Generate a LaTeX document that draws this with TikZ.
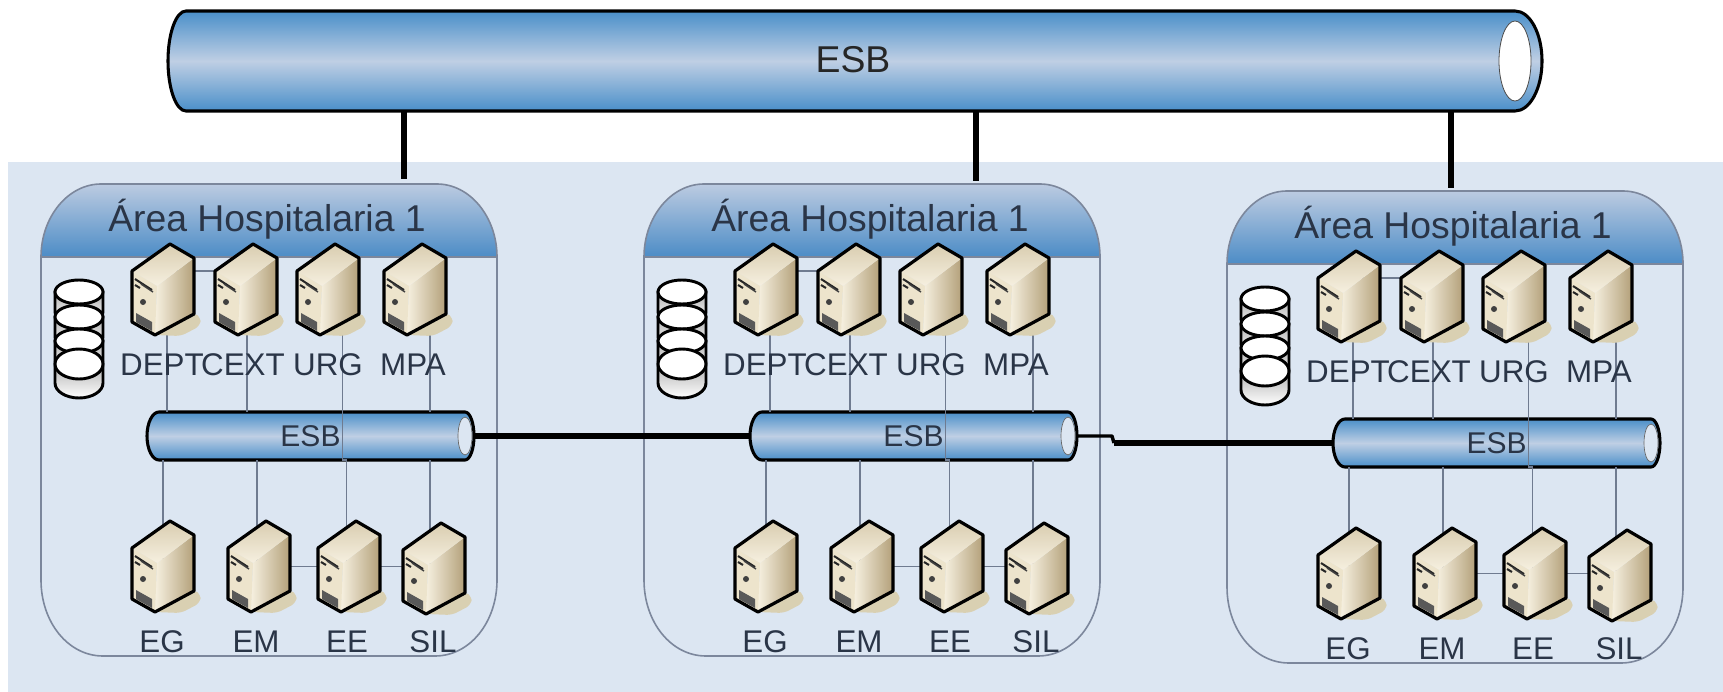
\documentclass[tikz,border=0pt]{standalone}
\usepackage{fontspec}
\setmainfont{Liberation Sans}
\usetikzlibrary{calc}
\definecolor{bgc}{HTML}{DCE6F2}
\definecolor{txtc}{HTML}{2A3547}
\definecolor{edgec}{HTML}{7C879C}
\definecolor{linkc}{HTML}{6F7B90}
\definecolor{tubeb}{HTML}{4A8FC9}
\definecolor{tubem}{HTML}{BFCFE4}
\definecolor{hdrtop}{HTML}{BCCBE1}
\definecolor{hdrbot}{HTML}{4C8CC6}
\definecolor{srvlight}{HTML}{F6F0E0}
\definecolor{srvdark}{HTML}{B3A079}
\definecolor{srvtop}{HTML}{D9CDB0}
\definecolor{srvfront}{HTML}{EDE4CC}
\definecolor{srvshadow}{HTML}{D9D0B2}
\tikzset{
  x=0.75pt,y=0.75pt,
  lbl/.style={inner sep=0pt,text=txtc,font=\fontsize{23.5}{25}\selectfont},
  hdr/.style={inner sep=0pt,text=txtc,font=\fontsize{28}{30}\selectfont},
  esblabel/.style={inner sep=0pt,text=txtc,font=\fontsize{22.5}{24}\selectfont},
  topesblabel/.style={inner sep=0pt,text=black!85,font=\fontsize{28}{30}\selectfont},
  link/.style={draw=linkc,line width=1.2pt},
  bus/.style={draw=black,line width=3.8pt},
  busthin/.style={draw=black,line width=2.6pt},
  riser/.style={draw=black,line width=4.4pt},
  srvbox/.style={inner sep=0pt,minimum width=48.75pt,minimum height=68.25pt},
  srv/.pic={
    \fill[srvshadow,rounded corners=4pt] (24,-91)--(62,-69)--(70,-73)--(69,-82)--(50,-92)--cycle;
    \shade[left color=srvlight,right color=srvdark] (26,-42)--(63,-14)--(63,-70)--(24,-91)--cycle;
    \shade[bottom color=srvlight,top color=srvtop] (1,-27)--(39,0)--(63,-14)--(26,-42)--cycle;
    \fill[srvfront] (1,-27)--(26,-42)--(24,-91)--(1,-78)--cycle;
    \draw[black!85,line width=1.5pt] (4,-35)--(21,-46) (4,-41)--(9,-44);
    \draw[black!75,line width=1.1pt] (10,-40)--(22,-48);
    \fill[black!75] (12,-58) circle (3);
    \fill[black!65] (5,-69)--(21,-78)--(21,-87)--(5,-78)--cycle;
    \draw[black,line width=2.4pt,line join=round] (1,-27)--(39,0)--(63,-14)--(63,-70)--(24,-91)--(1,-78)--cycle;
  }
}
\newcommand{\srvat}[3]{%
  \node[srvbox] (#1) at (#2+32,-#3-45.5) {};}
\newcommand{\tube}[6]{% x0 x1 ytop ybot rleft rright
  \shade[top color=tubeb,bottom color=tubeb,middle color=tubem]
    (#1+#5,-#3) -- (#2-#6,-#3)
    arc[start angle=90,end angle=-90,x radius=#6,y radius={(#4-#3)/2}]
    -- (#1+#5,-#4)
    arc[start angle=270,end angle=90,x radius=#5,y radius={(#4-#3)/2}] -- cycle;
  \draw[black,line width=2.3pt]
    (#1+#5,-#3) -- (#2-#6,-#3)
    arc[start angle=90,end angle=-90,x radius=#6,y radius={(#4-#3)/2}]
    -- (#1+#5,-#4)
    arc[start angle=270,end angle=90,x radius=#5,y radius={(#4-#3)/2}] -- cycle;}
\newcommand{\disk}[3]{% y, ry, body height
  \shade[top color=black!30,bottom color=white,draw=black,line width=2.2pt]
    (55,-#1) -- (55,-#1-#3) arc[start angle=180,end angle=360,x radius=24,y radius=#2]
    -- (103,-#1) -- cycle;
  \fill[white,draw=black,line width=2.2pt] (79,-#1) ellipse [x radius=24,y radius=#2];}
\newcommand{\panelgroup}[3]{% prefix dx dy
\begin{scope}[shift={(#2,-#3)}]
  \shade[top color=hdrtop,bottom color=hdrbot]
    (41,-257) .. controls (41,-217) and (68,-184) .. (101,-184)
    -- (437,-184) .. controls (470,-184) and (497,-217) .. (497,-257) -- cycle;
  \draw[edgec,line width=1.2pt]
    (41,-257) .. controls (41,-217) and (68,-184) .. (101,-184)
    -- (437,-184) .. controls (470,-184) and (497,-217) .. (497,-257) -- (497,-580)
    .. controls (497,-622) and (470,-656) .. (435,-656) -- (103,-656)
    .. controls (68,-656) and (41,-622) .. (41,-580) -- cycle;
  \draw[edgec,line width=1pt] (41,-257) -- (497,-257);
  \node[hdr] (#1h) at (267,-219) {Área Hospitalaria 1};
  \disk{292}{12}{20}
  \disk{317}{12}{20}
  \disk{341}{12}{20}
  \disk{364}{15}{19}
  \tube{147}{474}{412}{460}{12}{9}
  \fill[bgc,draw=black!60,line width=.5pt] (465,-436) ellipse [x radius=7,y radius=19];
  \node[esblabel,minimum width=245.25pt,minimum height=36pt] (#1e) at (310.5,-436) {ESB};
  \srvat{#1s1}{131}{244}\srvat{#1s2}{214}{244}\srvat{#1s3}{296}{244}\srvat{#1s4}{383}{244}
  \srvat{#1b1}{131}{521}\srvat{#1b2}{227}{521}\srvat{#1b3}{317}{521}\srvat{#1b4}{402}{523}
\end{scope}}
\newcommand{\panellinks}[1]{%
  \draw[link] ([xshift=3pt]#1s1.center) -- ([xshift=3pt]#1s1.center |- #1e.north);
  \draw[link] ([xshift=.8pt]#1s2.center) -- ([xshift=.8pt]#1s2.center |- #1e.north);
  \draw[link] ([xshift=11pt]#1s3.center) -- ([xshift=11pt]#1s3.center |- #1e.south)
     -- ([xshift=-2pt]#1b3.center |- #1e.south) -- ([xshift=-2pt]#1b3.center);
  \draw[link] ([xshift=11.2pt]#1s4.center) -- ([xshift=11.2pt]#1s4.center |- #1e.north);
  \draw[link] (#1b1.center) -- (#1b1.center |- #1e.south);
  \draw[link] ([xshift=-1.5pt]#1b2.center) -- ([xshift=-1.5pt]#1b2.center |- #1e.south);
  \draw[link] ([xshift=-3pt]#1b4.center) -- ([xshift=-3pt]#1b4.center |- #1e.south);
  \draw[link] ([yshift=14pt]#1s1.center) -- ([yshift=14pt]#1s2.center);
  \draw[link] (#1b2.center) -- (#1b3.center);
  \draw[link] (#1b3.center) -- (#1b3.center -| #1b4.center);}
\newcommand{\serverstop}[3]{% prefix dx dy : servers above links, then labels
\begin{scope}[shift={(#2,-#3)}]
  \pic at (131,-244) {srv};\pic at (214,-244) {srv};\pic at (296,-244) {srv};\pic at (383,-244) {srv};
  \pic at (131,-521) {srv};\pic at (227,-521) {srv};\pic at (317,-521) {srv};\pic at (402,-523) {srv};
  \node[lbl] (#1l1) at (162,-365) {DEPT};
  \node[lbl] (#1l2) at (243,-365) {CEXT};
  \node[lbl] (#1l3) at (328,-365) {URG};
  \node[lbl] (#1l4) at (413,-365) {MPA};
  \node[lbl] (#1l5) at (162,-642) {EG};
  \node[lbl] (#1l6) at (256,-642) {EM};
  \node[lbl] (#1l7) at (347,-642) {EE};
  \node[lbl] (#1l8) at (433,-642) {SIL};
\end{scope}}
\begin{document}
\begin{tikzpicture}
\useasboundingbox (0,0) rectangle (1723,-692);
\fill[bgc] (8,-162) rectangle (1723,-692);
\tube{168}{1542}{11}{111}{18}{27}
\fill[white,draw=black!70,line width=.6pt] (1515,-61) ellipse [x radius=16,y radius=40];
\node[topesblabel,minimum width=1000pt,minimum height=75pt] (top) at (853,-60) {ESB};
\panelgroup{a}{0}{0}
\panelgroup{b}{603}{0}
\panelgroup{c}{1186}{7}
\panellinks{a}\panellinks{b}\panellinks{c}
\serverstop{a}{0}{0}
\serverstop{b}{603}{0}
\serverstop{c}{1186}{7}
\coordinate (ra) at (404,-179);
\coordinate (rb) at (976,-181);
\coordinate (rc) at (1451,-188);
\draw[riser] (ra |- top.south) -- (ra);
\draw[riser] (rb |- top.south) -- (rb);
\draw[riser] (rc |- top.south) -- (rc);
\draw[bus] (ae.east) -- (be.west);
\coordinate (jog1) at (1112,-436);
\coordinate (jog2) at (1114,-443);
\draw[busthin,line join=round] (be.east) -- (jog1) -- (jog2);
\draw[bus,line join=round] (jog2) -- (ce.west);
\end{tikzpicture}
\end{document}
